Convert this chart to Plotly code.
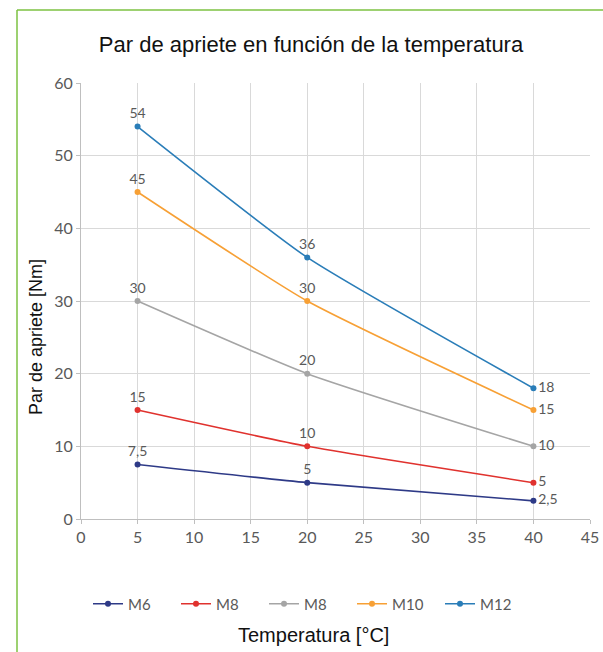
import plotly.graph_objects as go

temperatures = [5, 20, 40]
series_names = ["M6", "M8", "M8", "M10", "M12"]
m6 = [7.5, 5, 2.5]
m8_red = [15, 10, 5]
m8_gray = [30, 20, 10]
m10 = [45, 30, 15]
m12 = [54, 36, 18]
x_ticks = [0, 5, 10, 15, 20, 25, 30, 35, 40, 45]
y_ticks = [0, 10, 20, 30, 40, 50, 60]

colors = ["#2e3a87", "#e0322e", "#a5a5a5", "#f7a035", "#2a7db8"]
series = [m6, m8_red, m8_gray, m10, m12]

W, H = 603, 652
L, R, T, B = 81, 590, 83, 519  # plot area pixel bounds


def px(xp):
    return (xp - L) / (R - L)


def py(yp):
    return (B - yp) / (B - T)


def fmt(v):
    s = ("%g" % v)
    return s.replace(".", ",")


SMALL = "Lato, Open Sans, sans-serif"
BIG = "Liberation Sans, Arial, sans-serif"

fig = go.Figure()
for name, vals, col in zip(series_names, series, colors):
    fig.add_trace(go.Scatter(
        x=temperatures, y=vals, name=name,
        mode="lines+markers+text",
        line=dict(color=col, width=1.6, shape="spline", smoothing=0.5),
        marker=dict(color=col, size=6),
        text=[fmt(v) for v in vals],
        textposition=["top center", "top center", "middle right"],
        textfont=dict(family=SMALL, size=14, color="#595959"),
        cliponaxis=False,
    ))

fig.update_layout(
    width=W, height=H,
    margin=dict(l=L, r=W - R, t=T, b=H - B, autoexpand=False),
    paper_bgcolor="white", plot_bgcolor="white",
    showlegend=True,
    legend=dict(
        orientation="h", x=px(308), xanchor="center", y=py(604), yanchor="middle",
        font=dict(family=SMALL, size=15, color="#595959"),
        entrywidth=43, entrywidthmode="pixels", itemwidth=30,
        bgcolor="rgba(0,0,0,0)",
    ),
    title=dict(
        text="Par de apriete en función de la temperatura",
        x=311 / W, xanchor="center", y=1 - 44 / H, yanchor="middle",
        font=dict(family=BIG, size=22, color="#111111"),
    ),
    xaxis=dict(
        range=[0, 45], tickvals=x_ticks, showgrid=True, gridcolor="#d9d9d9", gridwidth=1,
        showline=True, linecolor="#bfbfbf", linewidth=1, zeroline=False, automargin=False,
        ticks="outside", ticklen=4, tickcolor="#bfbfbf",
        tickfont=dict(family=SMALL, size=16, color="#595959"),
    ),
    yaxis=dict(
        range=[0, 60], tickvals=y_ticks, showgrid=True, gridcolor="#d9d9d9", gridwidth=1,
        showline=True, linecolor="#bfbfbf", linewidth=1, zeroline=False, automargin=False,
        ticks="outside", ticklen=4, tickcolor="#bfbfbf",
        tickfont=dict(family=SMALL, size=16, color="#595959"),
    ),
    annotations=[
        dict(text="Temperatura [°C]", xref="paper", yref="paper",
             x=px(313), y=py(635), xanchor="center", yanchor="middle", showarrow=False,
             font=dict(family=BIG, size=20, color="#111111")),
        dict(text="Par de apriete [Nm]", xref="paper", yref="paper", textangle=-90,
             x=px(36), y=py(337), xanchor="center", yanchor="middle", showarrow=False,
             font=dict(family=BIG, size=18, color="#111111")),
    ],
    shapes=[
        dict(type="line", xref="paper", yref="paper", x0=px(17), x1=px(17),
             y0=py(10), y1=py(H + 5), line=dict(color="#7dc242", width=1.5)),
        dict(type="line", xref="paper", yref="paper", x0=px(17), x1=px(W + 5),
             y0=py(10), y1=py(10), line=dict(color="#7dc242", width=1.5)),
    ],
)

fig.write_html("out.html", config={"displayModeBar": False},
               post_script="document.body.style.margin='0px';")
